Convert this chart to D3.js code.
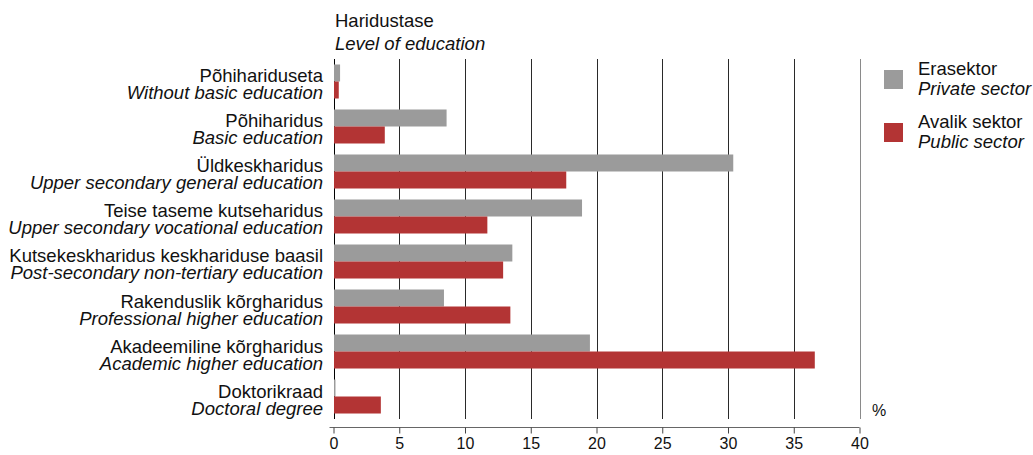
<!DOCTYPE html>
<html>
<head>
<meta charset="utf-8">
<script src="https://cdn.jsdelivr.net/npm/d3@7"></script>
<style>
  body { margin: 0; background: #fff; }
  text { font-family: "Liberation Sans", Arial, sans-serif; fill: #111; }
</style>
</head>
<body>
<div id="chart"></div>
<script>
//Datos
const categoriesEt = ['Põhihariduseta', 'Põhiharidus', 'Üldkeskharidus', 'Teise taseme kutseharidus',
    'Kutsekeskharidus keskhariduse baasil', 'Rakenduslik kõrgharidus', 'Akadeemiline kõrgharidus', 'Doktorikraad'];
const categoriesEn = ['Without basic education', 'Basic education', 'Upper secondary general education',
    'Upper secondary vocational education', 'Post-secondary non-tertiary education',
    'Professional higher education', 'Academic higher education', 'Doctoral degree'];
const privateValues = [0.5, 8.6, 30.4, 18.9, 13.6, 8.4, 19.5, 0.15];
const publicValues = [0.4, 3.9, 17.7, 11.7, 12.9, 13.45, 36.6, 3.6];
const seriesEt = ['Erasektor', 'Avalik sektor'];
const seriesEn = ['Private sector', 'Public sector'];
const xTicks = [0, 5, 10, 15, 20, 25, 30, 35, 40];

//Colores fijos
const COLOR_PRIVATE = '#9b9b9b',
    COLOR_PUBLIC = '#b33434';

const FONT_BIG = '18.5px', FONT_SMALL = '16px';

let width = 1033, height = 455;
let plotLeft = 333.5, plotRight = 859.5, plotTop = 59, plotBottom = 419;

let svg = d3.select('#chart').append('svg')
    .attr('width', width)
    .attr('height', height);

let x = d3.scaleLinear().domain([0, 40]).range([plotLeft, plotRight]);
let y = d3.scaleBand().domain(d3.range(categoriesEt.length)).range([plotTop, plotBottom]).paddingInner(0.2444).paddingOuter(0.122);
let sub = d3.scaleBand().domain([0, 1]).range([0, y.bandwidth()]);

// gridlines
svg.append('g').selectAll('line')
    .data(xTicks)
    .enter()
    .append('line')
    .attr('x1', d => Math.round(x(d)) + 0.5)
    .attr('x2', d => Math.round(x(d)) + 0.5)
    .attr('y1', plotTop)
    .attr('y2', plotBottom)
    .attr('stroke', d => d == 0 ? '#000' : (d == 40 ? '#8a8a8a' : '#2a2a2a'))
    .attr('stroke-width', 1);

// bars
let rows = categoriesEt.map((c, i) => ({ i: i, vals: [privateValues[i], publicValues[i]] }));
let groups = svg.append('g').selectAll('g')
    .data(rows)
    .enter()
    .append('g')
    .attr('transform', d => 'translate(0,' + y(d.i) + ')');

groups.selectAll('rect')
    .data(d => d.vals.map((v, k) => ({ v: v, k: k })))
    .enter()
    .append('rect')
    .attr('x', x(0) + 0.5)
    .attr('y', d => sub(d.k))
    .attr('width', d => Math.max(0, x(d.v) - x(0) - 0.5))
    .attr('height', sub.bandwidth())
    .attr('fill', d => d.k == 0 ? COLOR_PRIVATE : COLOR_PUBLIC);

// category labels (dos líneas: estonio / inglés)
let labels = svg.append('g').selectAll('text')
    .data(rows)
    .enter()
    .append('text')
    .attr('text-anchor', 'end')
    .style('font-size', FONT_BIG);
labels.append('tspan')
    .attr('x', 323)
    .attr('y', d => y(d.i) + 18)
    .text(d => categoriesEt[d.i]);
labels.append('tspan')
    .attr('x', 323)
    .attr('y', d => y(d.i) + 35)
    .style('font-style', 'italic')
    .text(d => categoriesEn[d.i]);

// axis
let axis = d3.axisBottom(x).tickValues(xTicks).tickSize(6).tickPadding(4).tickSizeOuter(0);
let gAxis = svg.append('g')
    .attr('transform', 'translate(0,427.5)')
    .call(axis);
gAxis.select('.domain').attr('stroke', '#666').attr('d', 'M' + (plotLeft - 4) + ',0H' + plotRight);
gAxis.selectAll('.tick line').attr('stroke', '#444');
gAxis.selectAll('.tick text')
    .style('font-size', FONT_SMALL)
    .style('font-family', '"Liberation Sans", Arial, sans-serif')
    .attr('fill', '#111');

svg.append('text').attr('x', 872).attr('y', 416).style('font-size', FONT_SMALL).text('%');

// title
svg.append('text').attr('x', 335).attr('y', 27).style('font-size', FONT_BIG).text('Haridustase');
svg.append('text').attr('x', 335).attr('y', 50).style('font-size', FONT_BIG).style('font-style', 'italic').text('Level of education');

// legend
let legend = svg.append('g').selectAll('g')
    .data([0, 1])
    .enter()
    .append('g')
    .attr('transform', d => 'translate(884,' + (70 + d * 53) + ')');
legend.append('rect')
    .attr('width', 19)
    .attr('height', 19)
    .attr('fill', d => d == 0 ? COLOR_PRIVATE : COLOR_PUBLIC);
legend.append('text')
    .attr('x', 34).attr('y', 5)
    .style('font-size', FONT_BIG)
    .text(d => seriesEt[d]);
legend.append('text')
    .attr('x', 34).attr('y', 25)
    .style('font-size', FONT_BIG)
    .style('font-style', 'italic')
    .text(d => seriesEn[d]);
</script>
</body>
</html>
